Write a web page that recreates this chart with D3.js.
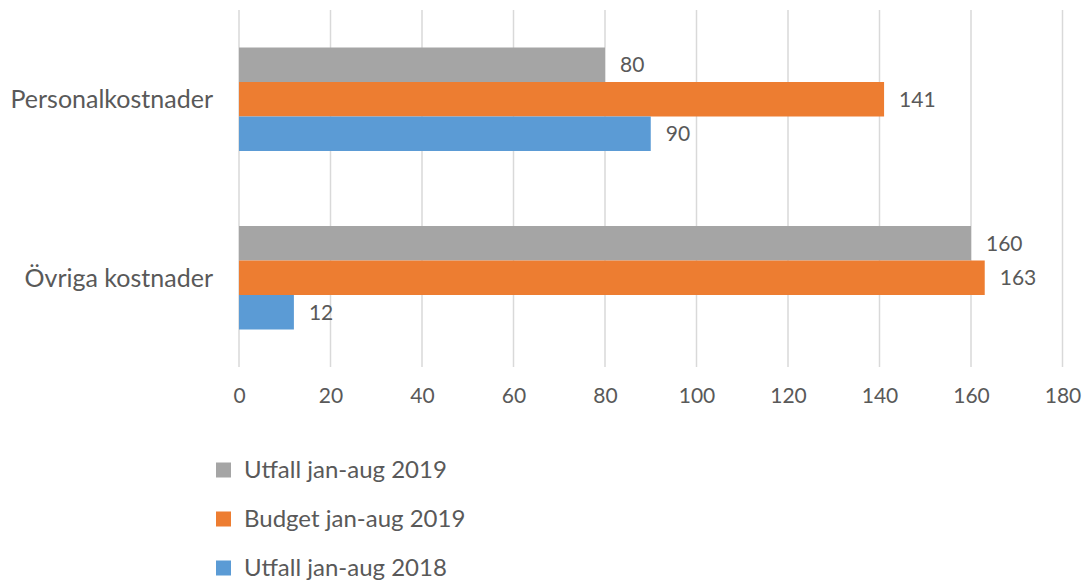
<!DOCTYPE html>
<html>
<head>
<meta charset="utf-8">
<script src="https://cdn.jsdelivr.net/npm/d3@7"></script>
<style>
  body { margin: 0; background: #fff; }
  text { font-family: Lato, "Open Sans", sans-serif; fill: #595959; }
</style>
</head>
<body>
<div class="chart"></div>
<script>
const categories = ["Personalkostnader", "Övriga kostnader"];
const seriesNames = ["Utfall jan-aug 2019", "Budget jan-aug 2019", "Utfall jan-aug 2018"];
const utfall2019 = [80, 160];
const budget2019 = [141, 163];
const utfall2018 = [90, 12];
const xTicks = [0, 20, 40, 60, 80, 100, 120, 140, 160, 180];
const colors = ["#a5a5a5", "#ed7d31", "#5b9bd5"];

const seriesValues = [utfall2019, budget2019, utfall2018];

const width = 1086, height = 582;
const margin = { top: 10, left: 239, right: 1086 - 1062.5, bottom: 582 - 367 };

const svg = d3.select(".chart")
	.append("svg")
	.attr("width", width)
	.attr("height", height);

const x = d3.scaleLinear()
	.domain([0, 180])
	.range([margin.left, width - margin.right]);

const y = d3.scaleBand()
	.domain(categories)
	.range([margin.top, height - margin.bottom]);

// three bars stacked in the middle of each band, gaps above and below
const inner = d3.scaleBand()
	.domain(seriesNames)
	.range([0, y.bandwidth()])
	.paddingOuter(1.087);

// gridlines
svg.append("g")
	.selectAll("line")
	.data(xTicks)
	.join("line")
	.attr("x1", (d) => x(d))
	.attr("x2", (d) => x(d))
	.attr("y1", margin.top)
	.attr("y2", height - margin.bottom)
	.attr("stroke", "#d9d9d9")
	.attr("stroke-width", 1.5);

// x axis labels
const xAxis = svg.append("g")
	.attr("transform", "translate(0," + (height - margin.bottom) + ")")
	.call(d3.axisBottom(x).tickValues(xTicks).tickSize(0).tickPadding(21));
xAxis.select(".domain").remove();
xAxis.selectAll("text")
	.style("font-size", "21px")
	.attr("fill", "#595959");

// category labels
svg.append("g")
	.selectAll("text")
	.data(categories)
	.join("text")
	.attr("x", 213)
	.attr("y", (d) => y(d) + y.bandwidth() / 2)
	.attr("dy", "0.35em")
	.attr("text-anchor", "end")
	.style("font-size", "25px")
	.text((d) => d);

// bars
const groups = svg.selectAll(".series")
	.data(seriesNames)
	.join("g")
	.attr("class", "series")
	.attr("fill", (d, i) => colors[i]);

groups.each(function (name, si) {
	const g = d3.select(this);
	const vals = categories.map((c, ci) => ({ cat: c, value: seriesValues[si][ci] }));
	g.selectAll("rect")
		.data(vals)
		.join("rect")
		.attr("x", x(0))
		.attr("y", (d) => y(d.cat) + inner(name))
		.attr("width", (d) => x(d.value) - x(0))
		.attr("height", inner.bandwidth());
	g.selectAll("text")
		.data(vals)
		.join("text")
		.attr("x", (d) => x(d.value) + 15)
		.attr("y", (d) => y(d.cat) + inner(name) + inner.bandwidth() / 2)
		.attr("dy", "0.35em")
		.style("font-size", "21px")
		.text((d) => d.value);
});

// legend
const legend = svg.append("g")
	.selectAll("g")
	.data(seriesNames)
	.join("g")
	.attr("transform", (d, i) => "translate(216," + (470 + i * 49) + ")");
legend.append("rect")
	.attr("y", -7.5)
	.attr("width", 15)
	.attr("height", 15)
	.attr("fill", (d, i) => colors[i]);
legend.append("text")
	.attr("x", 28)
	.attr("dy", "0.35em")
	.style("font-size", "24px")
	.text((d) => d);
</script>
</body>
</html>
